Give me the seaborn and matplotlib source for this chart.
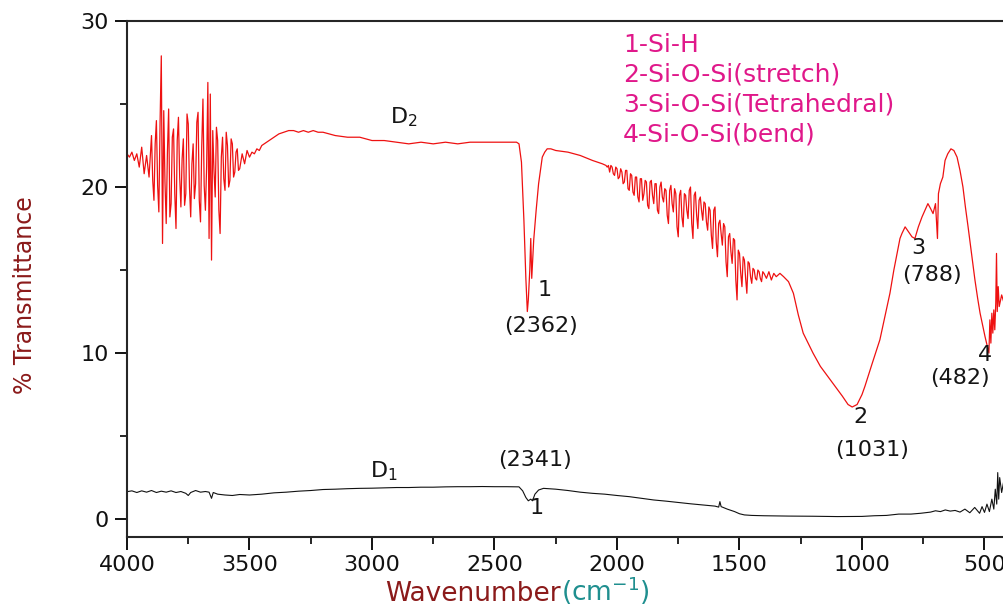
import numpy as np
import matplotlib
matplotlib.use("Agg")
import matplotlib.pyplot as plt
import seaborn as sns

# D2 spectrum (red), in segments
d2_a_wn = [4000, 3990, 3980, 3970, 3960, 3950, 3940, 3930, 3920, 3910, 3905]
d2_a_t = [22.0, 21.8, 22.1, 21.6, 22.0, 21.2, 22.4, 20.8, 21.9, 20.6, 21.8]

# noisy band 3900-3545
d2_b_wn = [3900, 3895, 3890, 3885, 3880, 3875, 3870, 3865, 3860, 3855, 3850, 3845, 3840, 3835,
           3830, 3825, 3820, 3815, 3810, 3805, 3800, 3795, 3790, 3785, 3780, 3775, 3770, 3765,
           3760, 3755, 3750, 3745, 3740, 3735, 3730, 3725, 3720, 3715, 3710, 3705, 3700, 3695,
           3690, 3685, 3680, 3675, 3670, 3665, 3660, 3655, 3650, 3645, 3640, 3635, 3630, 3625,
           3620, 3615, 3610, 3605, 3600, 3595, 3590, 3585, 3580, 3575, 3570, 3565, 3560, 3555,
           3550, 3545]
d2_b_t = [23.1, 20.4, 19.2, 22.6, 24.0, 20.1, 18.5, 23.9, 27.9, 16.6, 24.6, 20.3, 17.8, 22.1,
          24.7, 18.2, 19.0, 23.0, 23.5, 19.6, 17.5, 22.8, 24.2, 20.6, 18.8, 21.7, 22.9, 18.9,
          19.6, 24.4, 23.8, 20.0, 18.2, 21.4, 22.6, 19.3, 20.2, 23.9, 24.5, 19.2, 17.9, 22.4,
          25.3, 20.1, 18.6, 21.2, 26.3, 16.9, 25.6, 15.6, 23.4, 21.0, 19.4, 23.6, 22.8, 18.6,
          17.2, 21.8, 23.0, 20.5, 19.8, 23.3, 22.5, 20.0, 20.4, 22.9, 22.6, 20.6, 20.9, 22.1,
          22.3, 21.0]

# smooth part and the 2362 band
d2_c_wn = [3540, 3530, 3520, 3510, 3500, 3490, 3480, 3470, 3460, 3450, 3440, 3420, 3400, 3380,
           3360, 3340, 3320, 3300, 3280, 3260, 3240, 3220, 3200, 3150, 3100, 3050, 3000, 2950,
           2900, 2850, 2800, 2750, 2700, 2650, 2600, 2550, 2500, 2450, 2410, 2400, 2390, 2380,
           2372, 2366, 2362, 2356, 2352, 2348, 2344, 2340, 2330, 2320, 2305, 2295, 2285, 2270,
           2250, 2200, 2150, 2100, 2060, 2045]
d2_c_t = [21.1, 22.0, 21.4, 22.2, 21.8, 22.1, 22.0, 22.3, 22.2, 22.5, 22.6, 22.8, 23.0, 23.2,
          23.3, 23.4, 23.4, 23.3, 23.4, 23.3, 23.4, 23.3, 23.3, 23.1, 23.0, 23.0, 22.8, 22.8,
          22.7, 22.6, 22.7, 22.6, 22.7, 22.6, 22.7, 22.7, 22.7, 22.7, 22.7, 22.6, 21.5, 18.0,
          14.5, 12.5, 13.2, 15.0, 16.9, 14.5, 15.6, 16.8, 18.6, 20.2, 21.8, 22.1, 22.3, 22.3,
          22.2, 22.1, 21.9, 21.6, 21.4, 21.3]

# noisy band 2040-1400
d2_d_wn = [2040, 2035, 2030, 2025, 2020, 2015, 2010, 2005, 2000, 1995, 1990, 1985, 1980, 1975,
           1970, 1965, 1960, 1955, 1950, 1945, 1940, 1935, 1930, 1925, 1920, 1915, 1910, 1905,
           1900, 1895, 1890, 1885, 1880, 1875, 1870, 1865, 1860, 1855, 1850, 1845, 1840, 1835,
           1830, 1825, 1820, 1815, 1810, 1805, 1800, 1795, 1790, 1785, 1780, 1775, 1770, 1765,
           1760, 1755, 1750, 1745, 1740, 1735, 1730, 1725, 1720, 1715, 1710, 1705, 1700, 1695,
           1690, 1685, 1680, 1675, 1670, 1665, 1660, 1655, 1650, 1645, 1640, 1635, 1630, 1625,
           1620, 1615, 1610, 1605, 1600, 1595, 1590, 1585, 1580, 1575, 1570, 1565, 1560, 1555,
           1550, 1545, 1540, 1535, 1530, 1525, 1520, 1515, 1510, 1505, 1500, 1495, 1490, 1485,
           1480, 1475, 1470, 1465, 1460, 1455, 1450, 1445, 1440, 1435, 1430, 1425, 1420, 1415,
           1410, 1405, 1400]
d2_d_t = [21.2, 21.3, 20.9, 21.3, 21.2, 20.8, 20.7, 21.2, 21.1, 20.5, 20.6, 21.1, 20.9, 20.2,
          20.3, 21.0, 21.0, 19.9, 19.8, 20.8, 20.7, 19.7, 19.5, 20.6, 20.6, 19.4, 19.1, 20.5,
          20.5, 19.2, 19.6, 20.4, 20.3, 18.9, 18.7, 20.3, 20.4, 19.5, 19.0, 20.2, 20.2, 18.6,
          18.4, 20.0, 20.3, 19.4, 19.1, 19.9, 19.8, 18.3, 17.8, 19.8, 20.1, 19.0, 18.5, 19.9,
          19.6, 17.6, 17.0, 19.5, 19.8, 18.2, 17.6, 19.6, 19.5, 18.6, 18.1, 19.8, 20.0, 17.8,
          16.9, 19.5, 19.7, 18.3, 17.5, 19.2, 19.4, 18.6, 18.0, 19.1, 19.0, 17.9, 17.4, 18.8,
          18.6, 17.1, 16.3, 18.6, 18.8, 16.7, 15.8, 17.8, 18.0, 17.2, 16.5, 17.8, 17.6, 15.5,
          14.6, 17.0, 17.2, 16.1, 15.4, 16.9, 16.8, 14.4, 13.2, 16.2, 16.0, 14.8, 14.0, 15.8,
          15.6, 14.5, 13.6, 15.5, 15.4, 14.6, 14.2, 15.1, 15.0, 14.5, 14.4, 15.0, 14.9, 14.5,
          14.3, 14.9, 14.8]

# Si-O-Si region
d2_e_wn = [1390, 1380, 1370, 1360, 1350, 1335, 1320, 1300, 1280, 1260, 1240, 1220, 1200, 1170,
           1140, 1110, 1080, 1057, 1040, 1020, 1000, 988, 960, 927, 905, 886, 870, 857, 845,
           837, 824, 810, 796, 784, 770, 755, 740, 731, 720, 710, 700, 692, 688, 680, 670, 661,
           650, 637, 625, 612, 600, 588, 578, 567, 553, 539, 528, 518, 508, 498, 490, 482, 478,
           474, 470, 466, 462, 458, 454, 451, 448, 444, 440, 430, 420]
d2_e_t = [14.5, 14.9, 14.4, 14.8, 14.6, 14.8, 14.6, 14.3, 13.6, 12.3, 11.2, 10.6, 10.0, 9.2,
          8.6, 8.0, 7.4, 6.9, 6.75, 6.9, 7.5, 8.0, 9.3, 10.8, 12.3, 13.6, 15.0, 16.0, 16.9,
          17.2, 17.6, 17.3, 17.0, 16.9, 17.6, 18.2, 18.7, 19.0, 18.7, 18.4, 19.0, 16.9, 19.6,
          20.2, 20.6, 21.6, 22.0, 22.3, 22.2, 21.8, 21.0, 20.0, 18.8, 17.6, 16.0, 14.4, 13.3,
          12.4, 11.7, 11.0, 10.5, 10.0, 12.0, 10.6, 12.4, 11.2, 12.6, 11.4, 13.0, 16.0, 12.5,
          14.0, 12.8, 13.5, 13.0]

d2_wn = d2_a_wn + d2_b_wn + d2_c_wn + d2_d_wn + d2_e_wn
d2_t = d2_a_t + d2_b_t + d2_c_t + d2_d_t + d2_e_t

# D1 spectrum (black)
d1_wn = [4000, 3980, 3960, 3940, 3920, 3900, 3880, 3860, 3840, 3820, 3800, 3780, 3760, 3750,
         3740, 3720, 3700, 3680, 3665, 3655, 3648, 3630, 3600, 3570, 3540, 3500, 3450, 3400,
         3350, 3300, 3250, 3200, 3150, 3100, 3050, 3000, 2950, 2900, 2850, 2800, 2750, 2700,
         2650, 2600, 2550, 2500, 2450, 2400, 2385, 2372, 2362, 2352, 2345, 2335, 2320, 2300,
         2250, 2200, 2150, 2100, 2050, 2000, 1950, 1900, 1850, 1800, 1750, 1700, 1650, 1600,
         1585, 1580, 1575, 1550, 1520, 1500, 1480, 1450, 1400, 1300, 1200, 1100, 1000, 950,
         900, 850, 800, 760, 720, 700, 680, 660, 640, 620, 600, 580, 560, 540, 520, 510, 500,
         490, 480, 470, 462, 456, 450, 446, 442, 438, 430, 420]
d1_t = [1.65, 1.7, 1.6, 1.7, 1.62, 1.72, 1.6, 1.68, 1.62, 1.7, 1.6, 1.66, 1.55, 1.42,
        1.6, 1.72, 1.62, 1.66, 1.62, 1.25, 1.6, 1.5, 1.45, 1.42, 1.48, 1.45, 1.5, 1.58,
        1.62, 1.68, 1.72, 1.78, 1.8, 1.83, 1.85, 1.86, 1.88, 1.9, 1.9, 1.92, 1.92, 1.94,
        1.95, 1.95, 1.96, 1.95, 1.95, 1.94, 1.7, 1.3, 1.1, 1.2, 1.1, 1.5, 1.75, 1.85,
        1.8, 1.72, 1.62, 1.55, 1.5, 1.42, 1.35, 1.25, 1.15, 1.08, 1.0, 0.92, 0.85, 0.78,
        0.72, 1.05, 0.75, 0.6, 0.45, 0.32, 0.25, 0.22, 0.2, 0.18, 0.17, 0.15, 0.16, 0.2,
        0.22, 0.3, 0.3, 0.35, 0.42, 0.5, 0.45, 0.55, 0.48, 0.52, 0.42, 0.6, 0.38, 0.7, 0.35, 0.75, 0.4,
        0.9, 0.45, 1.2, 0.6, 1.8, 0.9, 2.8, 1.2, 2.5, 1.6, 2.4]

bands = ["1-Si-H", "2-Si-O-Si(stretch)", "3-Si-O-Si(Tetrahedral)", "4-Si-O-Si(bend)"]

sns.set_style("ticks")
plt.rcParams['font.family'] = ['DejaVu Sans']

fig = plt.figure(figsize=(10.04, 6.09), dpi=100)
W, H = 1004, 609
ax = fig.add_axes([127 / W, 1 - 537 / H, (1012 - 127) / W, (537 - 21) / H])

sns.lineplot(x=d2_wn, y=d2_t, color='#ee1111', linewidth=0.9, sort=False, estimator=None, ax=ax)
sns.lineplot(x=d1_wn, y=d1_t, color='#111111', linewidth=0.8, sort=False, estimator=None, ax=ax)

ax.set_xlim(4000, 4000 - (1012 - 127) / 0.245)
ax.set_ylim(-1.08, 30)
ax.set_xticks([4000, 3500, 3000, 2500, 2000, 1500, 1000, 500])
ax.set_xticks([3750, 3250, 2750, 2250, 1750, 1250, 750], minor=True)
ax.set_yticks([0, 10, 20, 30])
ax.set_yticks([5, 15, 25], minor=True)
ax.tick_params(which='major', direction='out', length=9, width=1.4, labelsize=16,
               colors='#111111', pad=4)
ax.tick_params(which='minor', direction='out', length=5, width=1.4)
for sp in ax.spines.values():
    sp.set_linewidth(1.5)
ax.spines['right'].set_visible(False)
ax.set_xlabel('')
ax.set_ylabel('')

# band legend text
for i, b in enumerate(bands):
    ax.text(1975, 28.55 - 1.8 * i, b, color='#e0188a', fontsize=18, va='center', ha='left')

# peak annotations
ann = dict(color='#151515', fontsize=16, ha='center', va='center')
ax.text(2870, 24.2, 'D$_2$', **ann)
ax.text(2950, 2.9, 'D$_1$', **ann)
ax.text(2294, 13.8, '1', **ann)
ax.text(2310, 11.6, '(2362)', **ann)
ax.text(1008, 6.15, '2', **ann)
ax.text(960, 4.15, '(1031)', **ann)
ax.text(771, 16.3, '3', **ann)
ax.text(714, 14.7, '(788)', **ann)
ax.text(498, 9.9, '4', **ann)
ax.text(600, 8.5, '(482)', **ann)
ax.text(2335, 3.55, '(2341)', **ann)
ax.text(2327, 0.66, '1', **ann)

fig.text(25 / W, 1 - 295 / H, '% Transmittance', rotation=90, color='#8b1a1a',
         fontsize=17, ha='center', va='center')
t1 = fig.text(385 / W, 1 - 601 / H, 'Wavenumber', color='#8b1a1a', fontsize=19,
              ha='left', va='baseline')
ax.annotate('(cm$^{-1}$)', xy=(1, 0), xycoords=t1, color='#1f8f8f', fontsize=19,
            ha='left', va='bottom', annotation_clip=False)

fig.savefig('out.png', dpi=100)
